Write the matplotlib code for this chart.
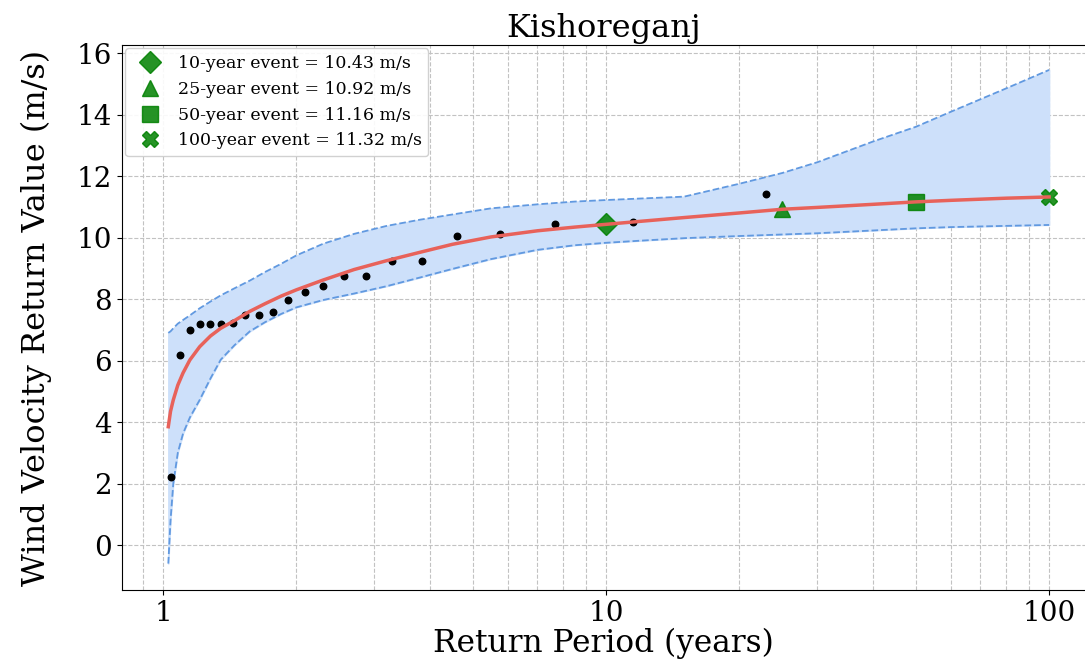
import matplotlib.pyplot as plt
from matplotlib.ticker import LogLocator, NullFormatter

plt.rcParams['font.family'] = ['DejaVu Serif']

# observed annual maxima with their plotting-position return periods
obs_period = [1.045, 1.095, 1.15, 1.21, 1.278, 1.353, 1.4375, 1.533, 1.643, 1.769, 1.917,
              2.091, 2.3, 2.556, 2.875, 3.286, 3.833, 4.6, 5.75, 7.667, 11.5, 23.0]
obs_value = [2.21, 6.18, 6.99, 7.19, 7.19, 7.19, 7.22, 7.48, 7.48, 7.58, 7.97,
             8.23, 8.42, 8.75, 8.75, 9.24, 9.24, 10.05, 10.11, 10.44, 10.50, 11.41]

# fitted return level curve and confidence bounds
period = [1.028, 1.04, 1.055, 1.08, 1.11, 1.15, 1.21, 1.28, 1.35, 1.45, 1.57, 1.7, 1.85,
          2.0, 2.3, 2.7, 3.2, 3.8, 4.5, 5.5, 7.0, 8.5, 10, 12, 15, 20, 25, 30, 40, 50, 60, 80, 100]
fit = [3.85, 4.35, 4.72, 5.2, 5.6, 6.02, 6.45, 6.8, 7.05, 7.3, 7.6, 7.85, 8.1,
       8.3, 8.62, 8.96, 9.25, 9.52, 9.78, 10.02, 10.22, 10.34, 10.43, 10.53, 10.65, 10.8,
       10.92, 10.98, 11.08, 11.16, 11.21, 11.28, 11.32]
upper = [6.9, 6.95, 7.05, 7.2, 7.32, 7.47, 7.7, 7.92, 8.12, 8.35, 8.6, 8.88, 9.15,
         9.42, 9.8, 10.12, 10.38, 10.58, 10.75, 10.95, 11.08, 11.17, 11.22, 11.27, 11.33, 11.75,
         12.1, 12.45, 13.12, 13.6, 14.09, 14.85, 15.45]
lower = [-0.6, 0.8, 2.0, 3.0, 3.63, 4.15, 4.72, 5.42, 6.03, 6.5, 6.95, 7.25, 7.52,
         7.73, 7.97, 8.18, 8.42, 8.7, 8.98, 9.3, 9.6, 9.75, 9.83, 9.9, 9.98, 10.05,
         10.1, 10.14, 10.23, 10.3, 10.34, 10.38, 10.41]

# design events
event_years = [10, 25, 50, 100]
event_values = [10.43, 10.92, 11.16, 11.32]
event_markers = ['D', '^', 's', 'X']

fig = plt.figure(figsize=(10.85, 6.64), dpi=100)
ax = fig.add_axes([0.1124, 0.1114, 0.8876, 0.8208])

ax.fill_between(period, lower, upper, color='#cde0fa', zorder=1)
ax.plot(period, upper, '--', color='#6199e0', lw=1.3, zorder=2)
ax.plot(period, lower, '--', color='#6199e0', lw=1.3, zorder=2)

ax.scatter(obs_period, obs_value, s=22, color='black', zorder=3)

for yr, val, mk in zip(event_years, event_values, event_markers):
    ax.plot(yr, val, marker=mk, color='green', markersize=11, linestyle='none', alpha=0.85,
            zorder=4, label=f'{yr}-year event = {val:.2f} m/s')

ax.plot(period, fit, color='#e8625a', lw=2.5, zorder=5)

ax.set_xscale('log')
ax.set_xlim(0.808, 120.5)
ax.set_ylim(-1.46, 16.26)
ax.set_yticks(range(0, 17, 2))
ax.set_xticks([1, 10, 100])
ax.set_xticklabels(['1', '10', '100'])
ax.xaxis.set_minor_locator(LogLocator(base=10, subs=range(2, 10)))
ax.xaxis.set_minor_formatter(NullFormatter())
ax.tick_params(axis='both', labelsize=20)
ax.tick_params(axis='x', which='minor', length=0)

ax.grid(True, which='major', linestyle='--', color='#c2c2c2', lw=0.8)
ax.grid(True, which='minor', axis='x', linestyle='--', color='#c2c2c2', lw=0.8)
ax.set_axisbelow(True)
ax.spines['right'].set_visible(False)

ax.set_title('Kishoreganj', fontsize=23, pad=6)
ax.set_xlabel('Return Period (years)', fontsize=22.5, labelpad=1)
ax.set_ylabel('Wind Velocity Return Value (m/s)', fontsize=23, labelpad=18)

ax.legend(loc='upper left', fontsize=12.5, framealpha=0.9, borderaxespad=0.2,
          handletextpad=0.6)

plt.savefig('out.png', dpi=100)
